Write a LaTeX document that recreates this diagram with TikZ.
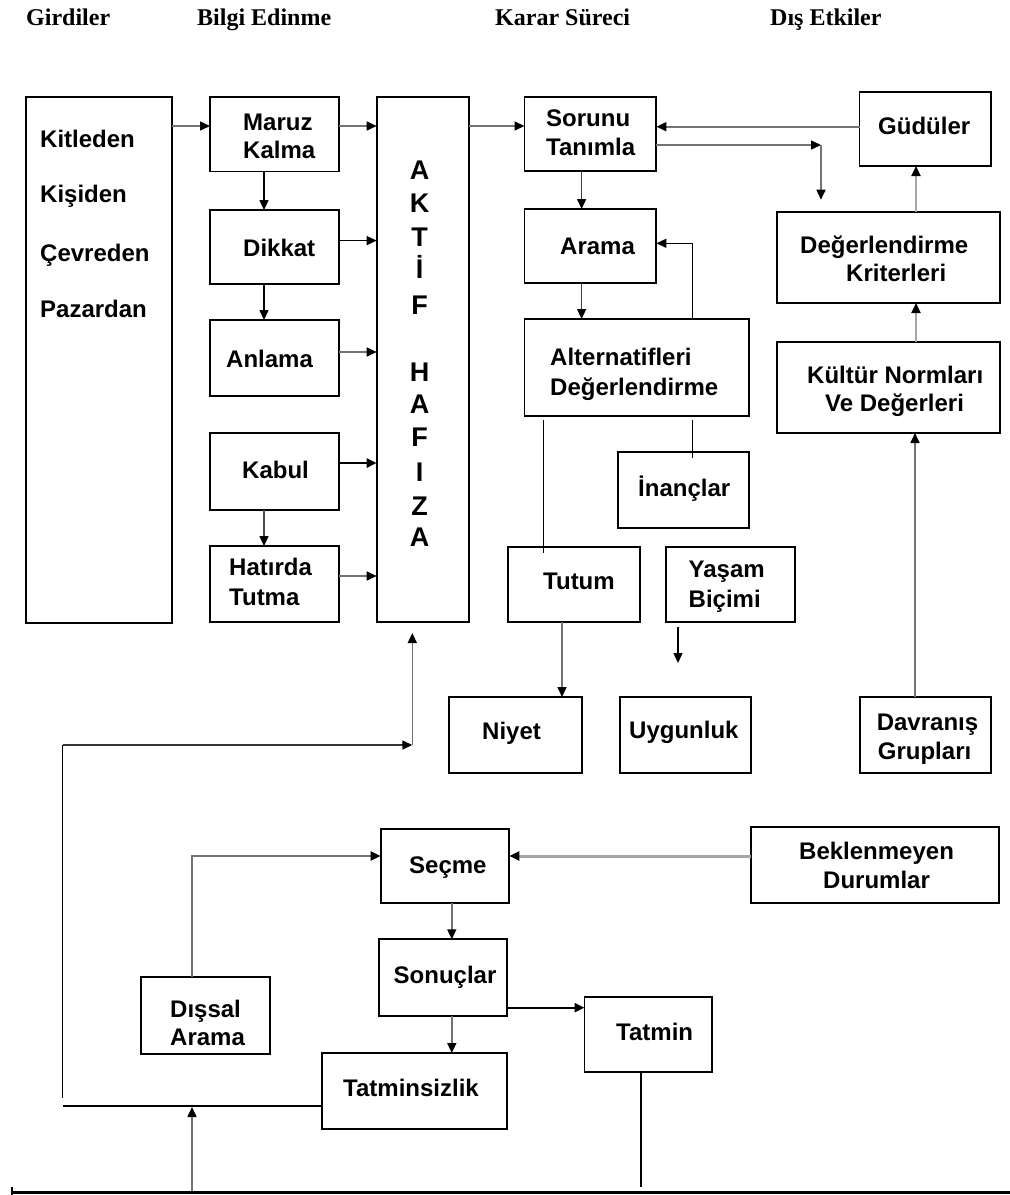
\documentclass[tikz,border=0pt]{standalone}
\usepackage{fontspec}
\setmainfont{Liberation Serif}
\newfontfamily\arialf{Liberation Sans}
\usetikzlibrary{arrows.meta,calc}

\tikzset{
  box/.style={draw=black, line width=1.9pt, rectangle, inner sep=0pt, outer sep=0pt},
  lbl/.style={font=\arialf\bfseries\fontsize{24}{28}\selectfont, inner sep=0pt,
              text height=17.2pt, text depth=0pt, anchor=west},
  head/.style={font=\bfseries\fontsize{24}{28}\selectfont, inner sep=0pt, anchor=base west},
  letter/.style={font=\arialf\bfseries\fontsize{27}{30}\selectfont, inner sep=0pt,
                 text height=19.3pt, text depth=0pt},
  tip/.style={-{Triangle[length=10pt,width=9pt,color=black]}},
  dark/.style={draw=black, line width=1.4pt},
  bold/.style={draw=black, line width=2.8pt},
  grey/.style={draw=black!55, line width=1.6pt},
  pale/.style={draw=black!35, line width=2.2pt},
  wide/.style={draw=black!35, line width=3pt},
}

% box from corner (x1,y1) to corner (x2,y2), y measured downwards
\newcommand\mkbox[5]{%
  \node[box, minimum width={(#4-#2)*1pt}, minimum height={(#5-#3)*1pt}]
    (#1) at ({(#2+#4)/2},{(#3+#5)/2}) {};}

\begin{document}
\begin{tikzpicture}[x=1pt,y=-1pt]
\useasboundingbox (0,0) rectangle (1010,1195);
\fill[white] (0,0) rectangle (1010,1195);

% column headings
\node[head] (h1) at (26,25) {Girdiler};
\node[head] (h2) at (197,25) {Bilgi Edinme};
\node[head] (h3) at (495,25) {Karar Süreci};
\node[head] (h4) at (770,25) {Dış Etkiler};

% boxes
\mkbox{gird}{26}{97}{172}{623}
\mkbox{maruz}{210}{97}{339}{171.5}
\mkbox{dikkat}{210}{210}{339}{284}
\mkbox{anlama}{210}{320}{339}{396}
\mkbox{kabul}{210}{433}{339}{510}
\mkbox{hatirda}{210}{546}{339}{622}
\mkbox{aktif}{376.7}{97}{469.3}{622}
\mkbox{sorunu}{524.5}{97.3}{656.4}{171}
\mkbox{gudu}{859.5}{91.7}{990.7}{166}
\mkbox{arama}{524.5}{209}{656.4}{283}
\mkbox{dk}{777}{211.7}{1000}{303}
\mkbox{alt}{524.5}{319}{749}{415.7}
\mkbox{kn}{777}{342}{1000}{433}
\mkbox{inanc}{618}{451.7}{749}{528}
\mkbox{tutum}{507.6}{546.7}{640}{622}
\mkbox{yasam}{666}{546.7}{795}{622}
\mkbox{niyet}{448.7}{697}{582}{773}
\mkbox{uygun}{620}{697}{751}{773}
\mkbox{davr}{859.8}{697}{991}{773}
\mkbox{secme}{380.6}{829}{509.4}{903}
\mkbox{bekl}{750.8}{826.7}{998.7}{903.3}
\mkbox{sonuc}{378.6}{939.3}{506.8}{1015.7}
\mkbox{dissal}{141}{976.7}{270}{1054}
\mkbox{tatmin}{584.5}{997.3}{712}{1071.7}
\mkbox{tatsiz}{322}{1053}{506.8}{1129.3}

% texts
\node[lbl] (t1) at (40,138.5) {Kitleden};
\node[lbl] (t2) at (40,194) {Kişiden};
\node[lbl] (t3) at (40,252.7) {Çevreden};
\node[lbl] (t4) at (40,308.8) {Pazardan};
\node[lbl] (t5) at (243,121.8) {Maruz};
\node[lbl] (t6) at (243,149.5) {Kalma};
\node[lbl] (t7) at (243,247.5) {Dikkat};
\node[lbl] (t8) at (226,359) {Anlama};
\node[lbl] (t9) at (242,470) {Kabul};
\node[lbl] (t10) at (229,567) {Hatırda};
\node[lbl] (t11) at (229,597) {Tutma};
\node[lbl] (t12) at (546,117.7) {Sorunu};
\node[lbl] (t13) at (546,147) {Tanımla};
\node[lbl] (t14) at (878,126) {Güdüler};
\node[lbl] (t15) at (560,246) {Arama};
\node[lbl] (t16) at (800,245) {Değerlendirme};
\node[lbl] (t17) at (846,273) {Kriterleri};
\node[lbl] (t18) at (550,356.7) {Alternatifleri};
\node[lbl] (t19) at (550,386.7) {Değerlendirme};
\node[lbl] (t20) at (807,375) {Kültür Normları};
\node[lbl] (t21) at (825,403) {Ve Değerleri};
\node[lbl] (t22) at (638,488) {İnançlar};
\node[lbl] (t23) at (543,581) {Tutum};
\node[lbl] (t24) at (688.5,569) {Yaşam};
\node[lbl] (t25) at (688.5,599) {Biçimi};
\node[lbl] (t26) at (482,730.7) {Niyet};
\node[lbl] (t27) at (629,730) {Uygunluk};
\node[lbl] (t28) at (876.6,721.7) {Davranış};
\node[lbl] (t29) at (877.7,750.7) {Grupları};
\node[lbl] (t30) at (409,865) {Seçme};
\node[lbl] (t31) at (799,851) {Beklenmeyen};
\node[lbl] (t32) at (823,880) {Durumlar};
\node[lbl] (t33) at (393.5,975) {Sonuçlar};
\node[lbl] (t34) at (170,1009) {Dışsal};
\node[lbl] (t35) at (170,1036.7) {Arama};
\node[lbl] (t36) at (616,1032) {Tatmin};
\node[lbl] (t37) at (343,1088) {Tatminsizlik};

% vertical lettering of the memory column
\foreach \c/\yy [count=\i] in {A/170,K/203,T/237,İ/269,F/305,H/372,A/404,F/437,I/472,Z/506,A/537}
  \node[letter] (hf\i) at (419.5,\yy) {\c};

% information acquisition chain
\draw[grey,tip] (gird.east |- 0,126) -- (maruz.west |- 0,126);
\draw[grey,tip] (maruz.east |- 0,126) -- (aktif.west |- 0,126);
\draw[dark,tip] (maruz.south -| 264,0) -- (dikkat.north -| 264,0);
\draw[dark,tip] (dikkat.east |- 0,240.6) -- (aktif.west |- 0,240.6);
\draw[dark,tip] (dikkat.south -| 264,0) -- (anlama.north -| 264,0);
\draw[grey,tip] (anlama.east |- 0,352) -- (aktif.west |- 0,352);
\draw[bold,tip] (kabul.east |- 0,463) -- (aktif.west |- 0,463);
\draw[dark,draw=black!70,tip] (kabul.south -| 264,0) -- (hatirda.north -| 264,0);
\draw[grey,tip] (hatirda.east |- 0,576) -- (aktif.west |- 0,576);

% decision process
\draw[grey,tip] (aktif.east |- 0,126) -- (sorunu.west |- 0,126);
\draw[grey,tip] (gudu.west |- 0,126.7) -- (sorunu.east |- 0,126.7);
\coordinate (sd) at (821,145);
\draw[grey,tip] (sorunu.east |- sd) -- (sd);
\draw[grey,tip,shorten >=12pt] (sd) -- (dk.north -| sd);
\draw[pale,tip] (dk.north -| 916,0) -- (gudu.south -| 916,0);
\draw[pale,tip] (kn.north -| 916,0) -- (dk.south -| 916,0);
\draw[grey,tip] (davr.north -| 915,0) -- (kn.south -| 915,0);
\draw[dark,draw=black!75,tip] (sorunu.south -| 581.6,0) -- (arama.north -| 581.6,0);
\draw[dark,draw=black!75,tip] (arama.south -| 581.6,0) -- (alt.north -| 581.6,0);
\draw[dark,tip] (alt.north -| 692.7,0) |- (arama.east |- 0,243.3);
\draw[dark] ($(alt.south -| 692.7,0)+(0,4)$) -- ($(inanc.north -| 692.7,0)+(0,6)$);
\draw[dark] ($(alt.south -| 543.6,0)+(0,4)$) -- ($(tutum.north -| 543.6,0)+(0,6)$);
\draw[grey,tip] (tutum.south -| 562,0) -- (niyet.north -| 562,0);
\coordinate (yend) at (678,663);
\draw[dark,tip] ($(yasam.south -| yend)+(0,5)$) -- (yend);

% feedback to the memory column
\coordinate (fbA) at (62.5,745);
\coordinate (fbB) at (412.3,745);
\coordinate (fbC) at (62.5,1098);
\coordinate (fbD) at (62.5,1106);
\draw[dark,draw=black!80,tip] (fbA) -- (fbB);
\draw[grey,tip,shorten >=11pt] (fbB) -- (aktif.south -| fbB);
\draw[dark] (fbA) -- (fbC);
\draw[dark,line width=1.9pt] (tatsiz.west |- fbD) -- (fbD);

% purchase and outcomes
\draw[wide,tip] (bekl.west |- 0,856) -- (secme.east |- 0,856);
\draw[grey,line width=2.4pt,tip] (dissal.north -| 192,0) |- (secme.west |- 0,856);
\draw[grey,tip] (secme.south -| 451.8,0) -- (sonuc.north -| 451.8,0);
\draw[dark,line width=2.2pt,tip] (sonuc.east |- 0,1007.7) -- (tatmin.west |- 0,1007.7);
\draw[grey,tip] (sonuc.south -| 451.8,0) -- (tatsiz.north -| 451.8,0);
\coordinate (tend) at (640.8,1186.7);
\draw[dark] (tatmin.south -| tend) -- (tend);

% base line
\coordinate (bl) at (12,1192.5);
\coordinate (br) at (1010,1192.5);
\coordinate (bu) at (192,1191);
\draw[line width=3pt] (bl) -- (br);
\draw[line width=2pt] (12,1187) -- (12,1195);
\draw[grey,tip] (bu) -- ($(bu |- fbD)+(0,1)$);
\end{tikzpicture}
\end{document}
